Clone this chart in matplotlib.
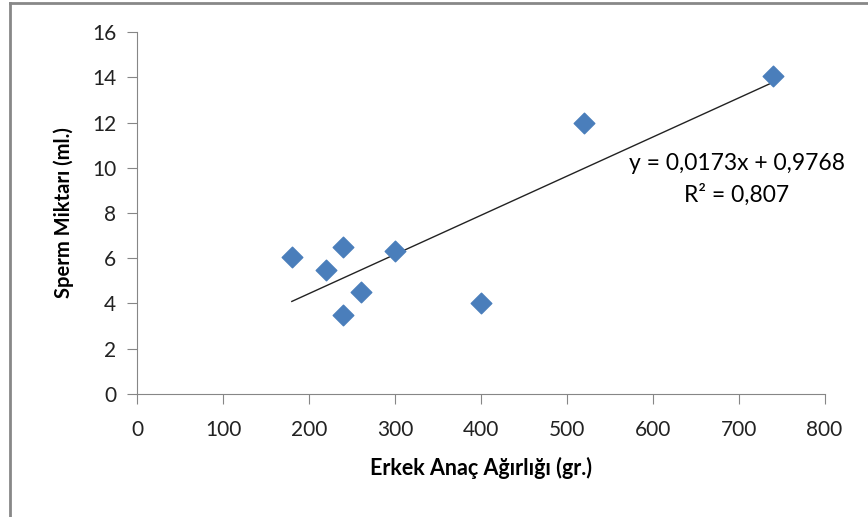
import matplotlib
matplotlib.use('Agg')
import matplotlib.pyplot as plt
from matplotlib.lines import Line2D

plt.rcParams['font.family'] = ['Lato', 'DejaVu Sans']

# veri
agirlik = [180, 220, 240, 240, 260, 300, 400, 520, 740]
sperm = [6.05, 5.5, 6.5, 3.5, 4.5, 6.3, 4.0, 12.0, 14.05]
egim = 0.0173
kesim = 0.9768
r2 = 0.807
trend_x = [min(agirlik), max(agirlik)]
trend_y = [egim * v + kesim for v in trend_x]

fig = plt.figure(figsize=(8.68, 5.17), dpi=100)
ax = fig.add_axes([0.158, 0.238, 0.792, 0.700])

ax.scatter(agirlik, sperm, marker='D', s=110, color='#4a7ebb', zorder=3)
ax.plot(trend_x, trend_y, color='#222222', lw=1, zorder=2)

ax.set_xlim(0, 800)
ax.set_ylim(0, 16)
ax.set_xticks(range(0, 801, 100))
ax.set_yticks(range(0, 17, 2))
for s in ['top', 'right']:
    ax.spines[s].set_visible(False)
for s in ['left', 'bottom']:
    ax.spines[s].set_color('#868686')
ax.tick_params(colors='#868686', labelcolor='#222222', labelsize=15, length=7)
ax.tick_params(axis='x', pad=12)
ax.tick_params(axis='y', pad=8)

ax.set_xlabel('Erkek Anaç Ağırlığı (gr.)', fontsize=15.5, fontweight='bold', labelpad=12)
ax.set_ylabel('Sperm Miktarı (ml.)', fontsize=14.5, fontweight='bold', labelpad=13)

ax.text(698, 10.21, f'y = {egim:.4f}x + {kesim:.4f}'.replace('.', ','), fontsize=16.5,
        ha='center', va='center')
ax.text(698, 8.79, f'R² = {r2:.3f}'.replace('.', ','), fontsize=16.5, ha='center', va='center')

# çerçeve (sol ve üst)
fig.add_artist(Line2D([10 / 868, 10 / 868], [0, 1 - 3 / 517], transform=fig.transFigure, color='#888888', lw=2))
fig.add_artist(Line2D([10 / 868, 1], [1 - 3 / 517, 1 - 3 / 517], transform=fig.transFigure, color='#888888', lw=2))

plt.savefig('out.png', dpi=100)
